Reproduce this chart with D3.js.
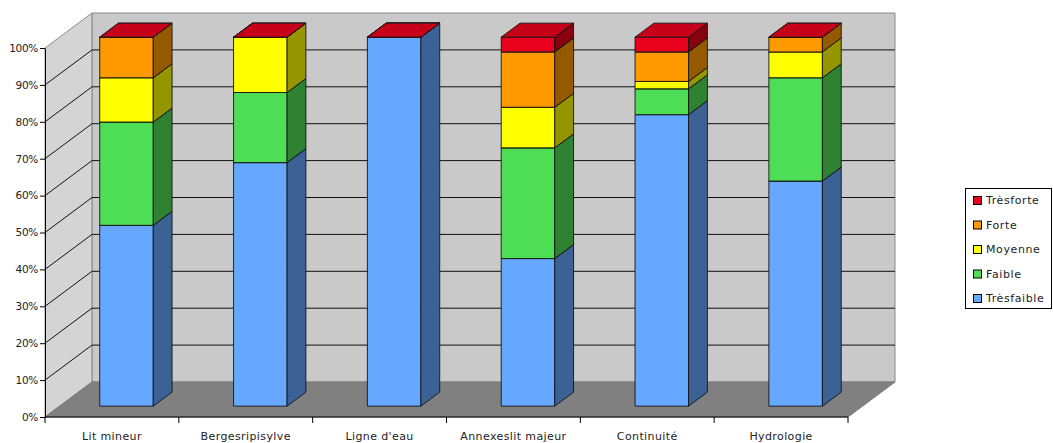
<!DOCTYPE html>
<html>
<head>
<meta charset="utf-8">
<script src="https://cdn.jsdelivr.net/npm/d3@7"></script>
<style>
  body { margin: 0; background: #fff; }
  text { font-family: "DejaVu Sans", Verdana, sans-serif; }
</style>
</head>
<body>
<script>
// ---- Data ----
const categories = ["Lit mineur", "Bergesripisylve", "Ligne d'eau", "Annexeslit majeur", "Continuité", "Hydrologie"];
const seriesNames = ["Trèsfaible", "Faible", "Moyenne", "Forte", "Trèsforte"];
const tresFaible = [49, 66, 100, 40, 79, 61];
const faible     = [28, 19, 0, 30, 7, 28];
const moyenne    = [12, 15, 0, 11, 2, 7];
const forte      = [11, 0, 0, 15, 8, 4];
const tresForte  = [0, 0, 0, 4, 4, 0];
const seriesColors = ["#66a8ff", "#4ede55", "#ffff00", "#ff9900", "#e8001c"];
const yTicks = [0, 10, 20, 30, 40, 50, 60, 70, 80, 90, 100];

// ---- Setup ----
const W = 1053, H = 443;
const svg = d3.select("body").append("svg").attr("width", W).attr("height", H);

const x = d3.scaleBand().domain(categories).range([45, 848]).paddingInner(0.6).paddingOuter(0.3);
const y = d3.scaleLinear().domain([0, 100]).range([417, 48]);
const DX = 47, DY = 35;           // depth offset of the 3D box
const F0 = 0.31, F1 = 0.71;       // bar front/back depth fractions
const P = (px, v, f) => [px + DX * f, y(v) - DY * f];
const poly = pts => "M" + pts.map(p => p.join(",")).join("L") + "Z";

const x0 = x.range()[0], x1 = x.range()[1];

// ---- Walls ----
svg.append("path")
  .attr("d", poly([P(x0, 0, 1), P(x1, 0, 1), P(x1, 100, 1), P(x0, 100, 1)]))
  .attr("fill", "#c9c9c9").attr("stroke", "#8a8a8a").attr("stroke-width", 1);
svg.append("path")
  .attr("d", poly([P(x0, 0, 0), P(x0, 100, 0), P(x0, 100, 1), P(x0, 0, 1)]))
  .attr("fill", "#d4d4d4").attr("stroke", "#8a8a8a").attr("stroke-width", 1);
svg.append("path")
  .attr("d", poly([P(x0, 0, 0), P(x1, 0, 0), P(x1, 0, 1), P(x0, 0, 1)]))
  .attr("fill", "#808080").attr("stroke", "#7a7a7a").attr("stroke-width", 1);

// gridlines
const grid = svg.append("g").attr("stroke", "#111").attr("stroke-width", 1);
yTicks.filter(v => v > 0 && v < 100).forEach(v => {
  const a = P(x0, v, 1), b = P(x1, v, 1), c = P(x0, v, 0);
  grid.append("line").attr("x1", a[0]).attr("y1", a[1]).attr("x2", b[0]).attr("y2", b[1]);
  grid.append("line").attr("x1", c[0]).attr("y1", c[1]).attr("x2", a[0]).attr("y2", a[1]);
});

// ---- Bars ----
const rows = categories.map((c, i) => ({
  cat: c,
  "Trèsfaible": tresFaible[i], "Faible": faible[i], "Moyenne": moyenne[i],
  "Forte": forte[i], "Trèsforte": tresForte[i]
}));
const stack = d3.stack().keys(seriesNames)(rows);
const bw = x.bandwidth();

const bars = svg.append("g").attr("stroke", "#141414").attr("stroke-width", 0.9).attr("stroke-linejoin", "round");
stack.forEach((layer, li) => {
  const col = d3.color(seriesColors[li]);
  const sideCol = col.darker(1.5).formatHex();
  const topCol = col.darker(0.45).formatHex();
  layer.forEach(d => {
    const c = d.data.cat;
    const bx0 = x(c), bx1 = x(c) + bw;
    const v0 = d[0], v1 = d[1];
    const g = bars.append("g");
    g.append("path").attr("fill", col.formatHex())
      .attr("d", poly([P(bx0, v0, F0), P(bx1, v0, F0), P(bx1, v1, F0), P(bx0, v1, F0)]));
    g.append("path").attr("fill", sideCol)
      .attr("d", poly([P(bx1, v0, F0), P(bx1, v0, F1), P(bx1, v1, F1), P(bx1, v1, F0)]));
    g.append("path").attr("fill", topCol)
      .attr("d", poly([P(bx0, v1, F0), P(bx1, v1, F0), P(bx1, v1, F1), P(bx0, v1, F1)]));
  });
});

// ---- Axes ----
const yAxis = d3.axisLeft(y).tickValues(yTicks).tickSize(5).tickSizeOuter(0).tickPadding(2)
  .tickFormat(d => d + "%");
const ya = svg.append("g").attr("transform", `translate(${x0},0)`).call(yAxis);
ya.selectAll("path, line").attr("stroke", "#000");
ya.selectAll("text").attr("font-size", 10.5).attr("fill", "#222")
  .attr("font-family", "DejaVu Sans, sans-serif").attr("letter-spacing", "-0.3");

svg.append("line").attr("x1", x0).attr("y1", y(0)).attr("x2", x1).attr("y2", y(0))
  .attr("stroke", "#000").attr("stroke-width", 1);
const step = x.step();
d3.range(categories.length + 1).forEach(i => {
  const tx = x0 + i * step;
  svg.append("line").attr("x1", tx).attr("y1", y(0)).attr("x2", tx).attr("y2", y(0) + 6)
    .attr("stroke", "#000");
});
svg.append("g").selectAll("text").data(categories).join("text")
  .attr("x", c => x(c) + bw / 2)
  .attr("y", 440)
  .attr("text-anchor", "middle")
  .attr("font-size", 11)
  .attr("letter-spacing", "0.4")
  .attr("fill", "#222")
  .text(c => c);

// ---- Legend ----
const leg = svg.append("g");
leg.append("rect").attr("x", 965.5).attr("y", 188.5).attr("width", 86).attr("height", 120)
  .attr("fill", "#fff").attr("stroke", "#000").attr("stroke-width", 1);
const legItems = seriesNames.map((n, i) => ({ n, c: seriesColors[i] })).reverse();
legItems.forEach((it, i) => {
  const cy = 200 + i * 24.5;
  leg.append("rect").attr("x", 973.5).attr("y", cy - 3.5).attr("width", 8).attr("height", 8)
    .attr("fill", it.c).attr("stroke", "#000").attr("stroke-width", 1);
  leg.append("text").attr("x", 986).attr("y", cy + 4.2).attr("font-size", 11)
    .attr("letter-spacing", "0.6").attr("fill", "#222").text(it.n);
});
</script>
</body>
</html>
